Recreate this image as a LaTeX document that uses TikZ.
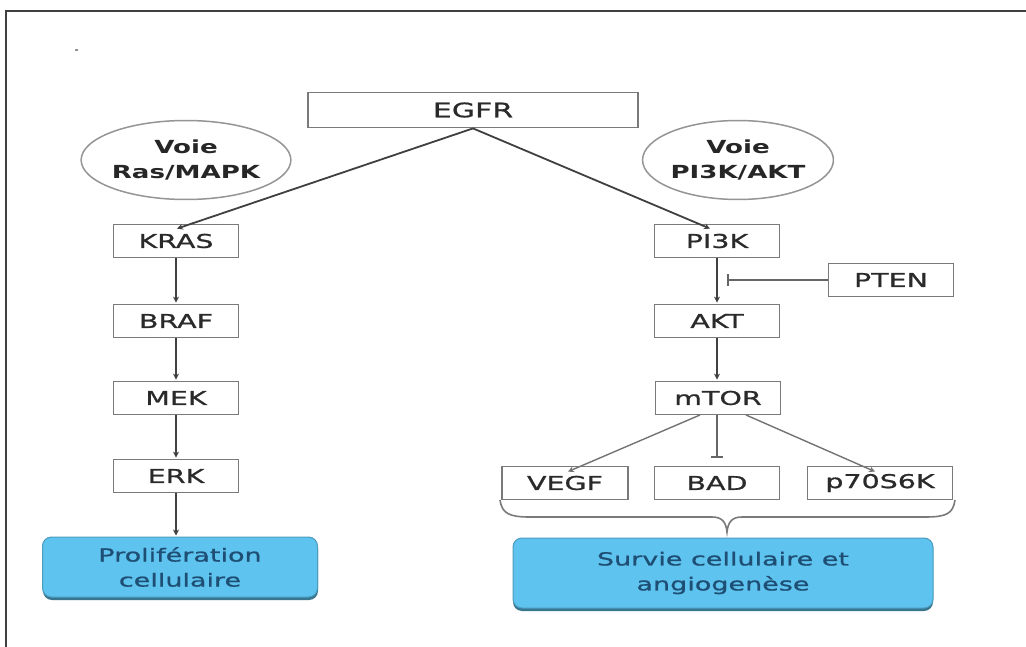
\documentclass[tikz,border=0pt]{standalone}
\usepackage{fontspec}
\usetikzlibrary{shapes.geometric,arrows.meta}
\newfontfamily\comic[FakeStretch=1.5,FakeBold=0.9]{DejaVu Sans}
\newfontfamily\comicb[FakeStretch=1.45]{DejaVu Sans Bold}
\definecolor{boxline}{HTML}{7A7A7A}
\definecolor{boxtext}{HTML}{2A2A2A}
\definecolor{bluefill}{HTML}{5EC3EE}
\definecolor{bluetext}{HTML}{1E4E74}
\definecolor{frameline}{HTML}{404040}
\tikzset{
  pbox/.style={draw=boxline, line width=1.8pt, fill=white, inner sep=0pt,
    minimum width=125pt, minimum height=33pt, text=boxtext,
    font=\comic\fontsize{19}{22}\selectfont},
  voie/.style={ellipse, draw=boxline!80, line width=1.5pt, inner sep=0pt,
    minimum width=188pt, minimum height=79pt, text=black!85,
    align=center, font=\comicb\fontsize{18}{25}\selectfont},
  outcome/.style={rounded corners=9pt, fill=bluefill, draw=bluefill!80!black,
    line width=1pt, inner sep=0pt, align=center, text=bluetext,
    font=\comic\fontsize{18}{25}\selectfont},
  act/.style={draw=black!75, line width=1.8pt, -{Stealth[length=6pt,width=6pt]}},
  actlight/.style={draw=black!55, line width=1.4pt, -{Stealth[length=6pt,width=6pt]}},
  inhib/.style={draw=black!60, line width=1.5pt, -{Bar[width=12pt,line width=1.5pt]}},
}
\begin{document}
\begin{tikzpicture}[x=1pt,y=-1pt]
\useasboundingbox (0,0) rectangle (1026,647);
\fill[white] (0,0) rectangle (1026,647);
% frame
\draw[frameline, line width=2.2pt] (6,647) -- (6,11) -- (1026,11);
\node[inner sep=0pt, font=\bfseries\small] (dot) at (77,51) {-};
% top
\node[pbox, minimum width=330pt, minimum height=35pt, font=\comic\fontsize{20}{22}\selectfont] (egfr) at (473,110) {EGFR};
\node[voie] (voieL) at (186,160) {Voie\\Ras/MAPK};
\node[voie] (voieR) at (738,160) {Voie\\PI3K/AKT};
% left column
\node[pbox] (kras) at (176,241) {KRAS};
\node[pbox] (braf) at (176,321) {BRAF};
\node[pbox] (mek) at (176,398) {MEK};
\node[pbox] (erk) at (176,476) {ERK};
\fill[bluefill!60!black, rounded corners=9pt] (43,540) rectangle (318,600);
\node[outcome, minimum width=275pt, minimum height=60pt] (prolif) at (180,567) {Prolifération\\cellulaire};
% right column
\node[pbox] (pi3k) at (717,241) {PI3K};
\node[pbox] (pten) at (891,280) {PTEN};
\node[pbox] (akt) at (717,321) {AKT};
\node[pbox] (mtor) at (718,398) {mTOR};
\node[pbox, minimum width=126pt] (vegf) at (565,483) {VEGF};
\node[pbox] (bad) at (717,483) {BAD};
\node[pbox, minimum width=145pt] (p70) at (880,483) {p70S6K};
\fill[bluefill!60!black, rounded corners=9pt] (513,541) rectangle (933,611);
\node[outcome, minimum width=420pt, minimum height=70pt] (survie) at (723,573) {Survie cellulaire et\\angiogenèse};
% connectors
\draw[act] (egfr.south) -- ([xshift=1pt,yshift=-5pt]kras.north);
\draw[act] (egfr.south) -- ([xshift=-7pt,yshift=-5pt]pi3k.north);
\draw[act, shorten >=1pt] (kras) -- (braf);
\draw[act, shorten >=1pt] (braf) -- (mek);
\draw[act, shorten >=1pt] (mek) -- (erk);
\draw[act, shorten >=1pt] (erk.south) -- (erk.south |- prolif.north);
\draw[act, shorten >=1pt] (pi3k) -- (akt);
\draw[act, shorten >=1pt] (akt.south) -- (akt.south |- mtor.north);
\coordinate (ptenbar) at (727,280);
\draw[inhib] (pten.west) -- (ptenbar);
\coordinate (mL) at (700,415);
\coordinate (mR) at (746,415);
\draw[actlight] (mL) -- ([xshift=3pt,yshift=-6pt]vegf.north);
\draw[actlight] (mR) -- ([xshift=-5pt,yshift=-6pt]p70.north);
\draw[inhib, shorten >=8pt] (bad.north |- mtor.south) -- (bad.north);
% brace
\coordinate (brL) at (500,500);
\coordinate (brM) at (727,532);
\coordinate (brR) at (955,500);
\draw[boxline, line width=1.6pt] (brL) .. controls (502,514) and (510,517) .. (530,517)
  -- (712,517) .. controls (722,517) and (726,522) .. (brM)
  .. controls (728,522) and (732,517) .. (742,517)
  -- (925,517) .. controls (946,517) and (953,514) .. (brR);
\end{tikzpicture}
\end{document}
